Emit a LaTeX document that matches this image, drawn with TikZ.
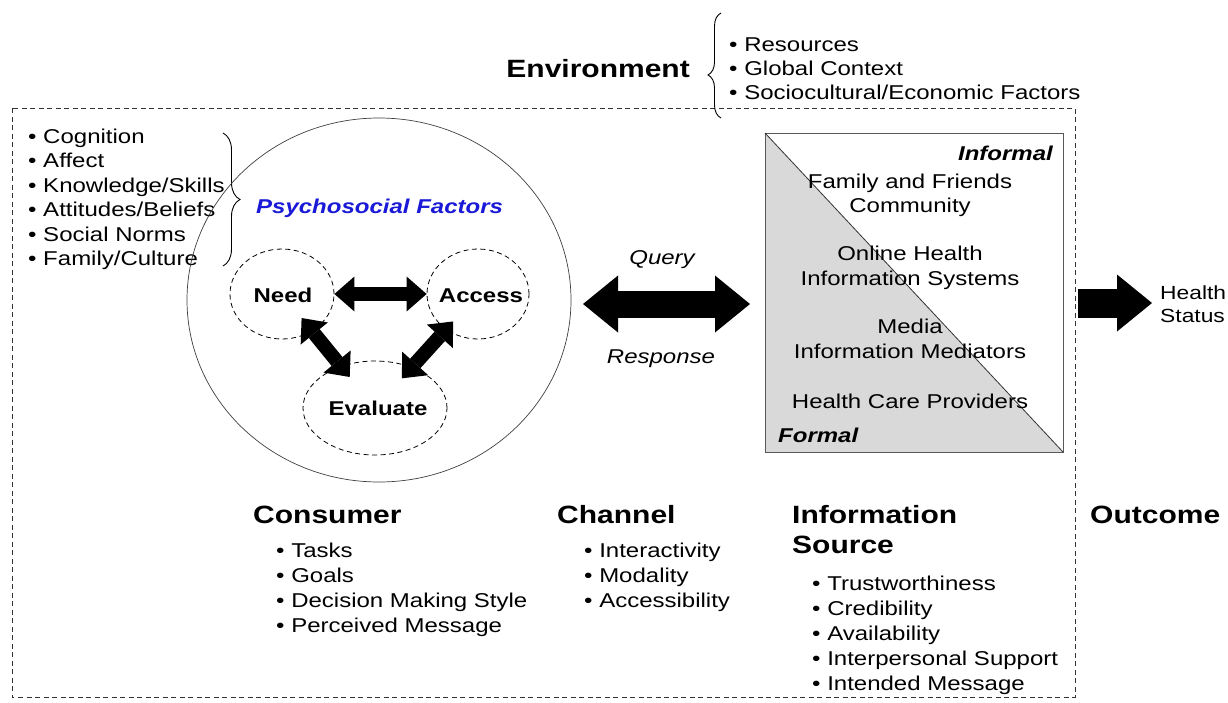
\documentclass[tikz,border=0pt]{standalone}
\usepackage{fontspec}
\setmainfont{Liberation Sans}[FakeStretch=1.2]
\usetikzlibrary{arrows.meta,decorations.pathreplacing,shapes.geometric}
\definecolor{psyblue}{RGB}{25,25,215}
\definecolor{boxgray}{RGB}{217,217,217}
\begin{document}
\begin{tikzpicture}[x=1pt,y=-1pt,
  txt/.style={font=\fontsize{20}{24}\selectfont, inner sep=0pt},
  bld/.style={font=\fontsize{20}{24}\selectfont\bfseries, inner sep=0pt},
  bit/.style={font=\fontsize{20}{24}\selectfont\bfseries\itshape, inner sep=0pt},
  itl/.style={font=\fontsize{20}{24}\selectfont\itshape, inner sep=0pt},
  head/.style={font=\fontsize{25}{30}\selectfont\bfseries, inner sep=0pt},
  dcirc/.style={ellipse, draw, dash pattern=on 5pt off 3.5pt, line width=0.8pt, inner sep=0pt},
  fatarrow/.style={line width=14pt,
    {Triangle[width=35pt,length=20pt,line width=0pt]}-{Triangle[width=35pt,length=20pt,line width=0pt]}},
  brc/.style={decorate, line width=0.9pt}
]
\useasboundingbox (0,0) rectangle (1228,702);
\fill[white] (0,0) rectangle (1228,702);

% outer dashed frame
\draw[dash pattern=on 5pt off 3.5pt, line width=0.8pt, black!80] (12,108) rectangle (1075,697);

% environment
\node[head, anchor=base east] (env) at (690,77) {Environment};
\draw[brc, decoration={brace, amplitude=13pt, aspect=0.41}] (721,118) -- (721,13);
\foreach \t [count=\i] in {Resources, Global Context, Sociocultural/Economic Factors}
  \node[txt, anchor=base west] (envi\i) at (729,{27+24*\i}) {• \t};

% psychosocial list
\foreach \t [count=\i] in {Cognition, Affect, Knowledge/Skills, Attitudes/Beliefs, Social Norms, Family/Culture}
  \node[txt, anchor=base west] (psl\i) at (28,{118.5+24.5*\i}) {• \t};
\draw[brc, decoration={brace, amplitude=17pt, aspect=0.5}] (223,133) -- (223,266);

% consumer circle
\node[ellipse, draw=black!75, line width=0.7pt, minimum width=384pt, minimum height=364pt, inner sep=0pt] (psy) at (379,300) {};
\node[bit, psyblue, anchor=base west] (psyt) at (256,213) {Psychosocial Factors};
\node[dcirc, minimum width=104pt, minimum height=90pt] (need) at (282,294) {};
\node[dcirc, minimum width=102pt, minimum height=90pt] (access) at (478,294) {};
\node[dcirc, minimum width=144pt, minimum height=94pt] (eval) at (375,408) {};
\node[bld, anchor=base] (needt) at (283,302) {Need};
\node[bld, anchor=base] (accesst) at (481,302) {Access};
\node[bld, anchor=base] (evalt) at (378,415) {Evaluate};
\draw[fatarrow] (need.east) -- (access.west);
\draw[fatarrow, shorten <=31pt, shorten >=40pt] (need.center) -- (eval.center);
\draw[fatarrow, shorten <=37pt, shorten >=40pt] (access.center) -- (eval.center);

% channel arrow
\coordinate (ql) at (583,304);
\coordinate (qr) at (750,304);
\draw[line width=27pt,
  {Triangle[width=57pt,length=35pt,line width=0pt]}-{Triangle[width=57pt,length=35pt,line width=0pt]}] (ql) -- (qr);
\node[itl, anchor=base] (query) at (662,264) {Query};
\node[itl, anchor=base] (resp) at (661,363) {Response};

% information source box
\path (765,133) coordinate (infonw) (1063,452) coordinate (infose);
\fill[boxgray] (infonw) -- (infose) -| (infonw) -- cycle;
\draw[black!65, line width=0.8pt] (infonw) rectangle (infose);
\draw[black!80, line width=0.8pt] (infonw) -- (infose);
\node[bit, anchor=base east] (informal) at (1053,160) {Informal};
\node[bit, anchor=base west] (formal) at (778,442) {Formal};
\node[txt, anchor=base] (s1) at (910,188) {Family and Friends};
\node[txt, anchor=base] (s2) at (910,212) {Community};
\node[txt, anchor=base] (s3) at (910,260) {Online Health};
\node[txt, anchor=base] (s4) at (910,285) {Information Systems};
\node[txt, anchor=base] (s5) at (910,333) {Media};
\node[txt, anchor=base] (s6) at (910,358) {Information Mediators};
\node[txt, anchor=base] (s7) at (910,408) {Health Care Providers};

% outcome arrow
\node[font=\fontsize{19}{23}\selectfont, inner sep=0pt, anchor=west, align=left] (health) at (1160,304) {Health\\Status};
\coordinate (hs) at (1078,303);
\coordinate (he) at (1152,303);
\draw[line width=29pt, -{Triangle[width=57pt,length=35pt,line width=0pt]}] (hs) -- (he);

% bottom headers
\node[head, anchor=base west] (cons) at (253,523) {Consumer};
\node[head, anchor=base west] (chan) at (557,523) {Channel};
\node[head, anchor=base west] (isrc) at (792,523) {Information};
\node[head, anchor=base west] (isrc2) at (792,553) {Source};
\node[head, anchor=base west] (outc) at (1090,523) {Outcome};

\foreach \t [count=\i] in {Tasks, Goals, Decision Making Style, Perceived Message}
  \node[txt, anchor=base west] (ci\i) at (276,{532+25*\i}) {• \t};
\foreach \t [count=\i] in {Interactivity, Modality, Accessibility}
  \node[txt, anchor=base west] (hi\i) at (584,{532+25*\i}) {• \t};
\foreach \t [count=\i] in {Trustworthiness, Credibility, Availability, Interpersonal Support, Intended Message}
  \node[txt, anchor=base west] (ii\i) at (812,{565+25*\i}) {• \t};
\end{tikzpicture}
\end{document}
